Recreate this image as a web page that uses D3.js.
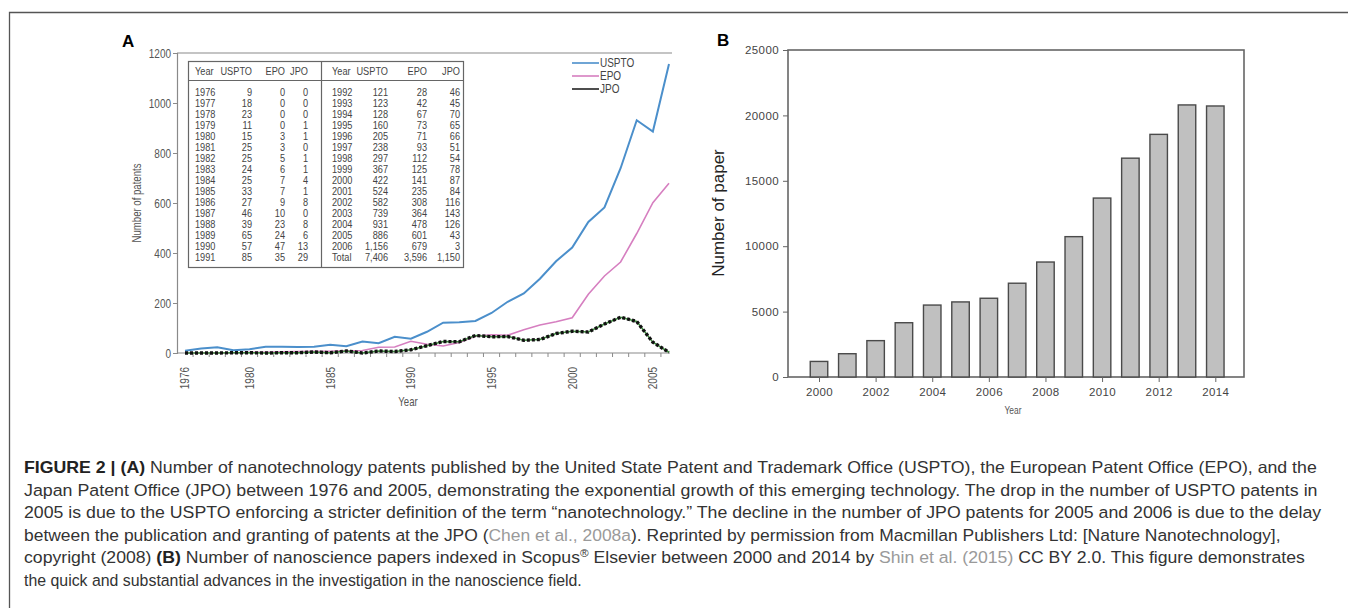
<!DOCTYPE html>
<html><head><meta charset="utf-8">
<script src="https://cdn.jsdelivr.net/npm/d3@7"></script>
<style>body{margin:0;background:#fff;} svg{display:block;}</style>
</head><body>
<svg id="fig" width="1348" height="608"></svg>
<script>
// ---------- Panel A data ----------
const patentYears = [1976,1977,1978,1979,1980,1981,1982,1983,1984,1985,1986,1987,1988,1989,1990,1991,1992,1993,1994,1995,1996,1997,1998,1999,2000,2001,2002,2003,2004,2005,2006];
const usptoValues = [9,18,23,11,15,25,25,24,25,33,27,46,39,65,57,85,121,123,128,160,205,238,297,367,422,524,582,739,931,886,1156];
const epoValues   = [0,0,0,0,3,3,5,6,7,7,9,10,23,24,47,35,28,42,67,73,71,93,112,125,141,235,308,364,478,601,679];
const jpoValues   = [0,0,0,1,1,0,1,1,4,1,8,0,8,6,13,29,46,45,70,65,66,51,54,78,87,84,116,143,126,43,3];
const seriesNames = ["USPTO","EPO","JPO"];
const patentYTicks = [0,200,400,600,800,1000,1200];
const patentXTickLabels = [1976,1980,1985,1990,1995,2000,2005];
const tableHeader = ["Year","USPTO","EPO","JPO"];
const totalLabel = "Total";

// ---------- Panel B data ----------
const paperYears = [2000,2001,2002,2003,2004,2005,2006,2007,2008,2009,2010,2011,2012,2013,2014];
const paperValues = [1190,1780,2780,4150,5500,5740,6020,7170,8790,10730,13680,16730,18550,20800,20720];
const paperYTicks = [0,5000,10000,15000,20000,25000];
const paperXTickLabels = [2000,2002,2004,2006,2008,2010,2012,2014];

// ---------- Caption ----------
const captionLines = [
  [{t:"FIGURE 2 | (A)",s:"b"},{t:" Number of nanotechnology patents published by the United State Patent and Trademark Office (USPTO), the European Patent Office (EPO), and the"}],
  [{t:"Japan Patent Office (JPO) between 1976 and 2005, demonstrating the exponential growth of this emerging technology. The drop in the number of USPTO patents in"}],
  [{t:"2005 is due to the USPTO enforcing a stricter definition of the term \u201cnanotechnology.\u201d The decline in the number of JPO patents for 2005 and 2006 is due to the delay"}],
  [{t:"between the publication and granting of patents at the JPO ("},{t:"Chen et al., 2008a",s:"l"},{t:"). Reprinted by permission from Macmillan Publishers Ltd: [Nature Nanotechnology],"}],
  [{t:"copyright (2008) "},{t:"(B)",s:"b"},{t:" Number of nanoscience papers indexed in Scopus"},{t:"\u00AE",s:"sup"},{t:" Elsevier between 2000 and 2014 by "},{t:"Shin et al. (2015)",s:"l"},{t:" CC BY 2.0. This figure demonstrates"}],
  [{t:"the quick and substantial advances in the investigation in the nanoscience field."}]
];
const captionRight = [1318,1318,1323,1282,1305,582];

const svg = d3.select("#fig");
const SANS = "'Liberation Sans',Arial,sans-serif";
const K = 0.8; // horizontal condensing factor for the narrow font look

function ntext(parent, x, y, str, size, anchor, fill, rot) {
  return parent.append("text")
    .attr("transform", `translate(${x},${y})${rot ? " rotate(-90)" : ""} scale(${K},1)`)
    .attr("text-anchor", anchor).attr("dy","0.35em")
    .attr("font-family", SANS).attr("font-size", size).attr("fill", fill).text(str);
}

// outer frame (top + left)
svg.append("path").attr("d","M9.5,608 V12.5 H1348").attr("fill","none").attr("stroke","#555").attr("stroke-width",1.3);

// ================= PANEL A =================
const A = svg.append("g");
const xA = d3.scaleLinear().domain([1976,2006]).range([185,669]);
const yA = d3.scaleLinear().domain([0,1200]).range([353,53]);
const axisCol = "#8a8a8a", txtA = "#555";

A.append("text").attr("x",122).attr("y",47).attr("font-family",SANS).attr("font-weight","bold").attr("font-size",17).text("A");

// frame top line
A.append("line").attr("x1",177).attr("x2",672).attr("y1",yA(1200)).attr("y2",yA(1200)).attr("stroke",axisCol).attr("stroke-width",1.2);

// y axis
const yAxisA = A.append("g").attr("transform","translate(177,0)")
  .call(d3.axisLeft(yA).tickValues(patentYTicks).tickFormat(d3.format("d")).tickSize(4).tickPadding(3));
yAxisA.select(".domain").attr("stroke",axisCol).attr("stroke-width",1.2);
yAxisA.selectAll(".tick line").attr("stroke",axisCol);
yAxisA.selectAll(".tick text").remove();
yAxisA.selectAll(".tick").each(function(d){ ntext(d3.select(this), -6, 0, d, 12.5, "end", txtA, false); });

// x axis: baseline + half-year ticks
A.append("line").attr("x1",177).attr("x2",670).attr("y1",yA(0)).attr("y2",yA(0)).attr("stroke",axisCol).attr("stroke-width",1.2);
const halfTicks = patentYears.slice(0,-1).map(y=>y+0.5);
A.selectAll(".htick").data(halfTicks).join("line")
  .attr("x1",d=>xA(d)).attr("x2",d=>xA(d)).attr("y1",yA(0)).attr("y2",yA(0)+4)
  .attr("stroke",axisCol);
patentXTickLabels.forEach(d=>{
  ntext(A, xA(d), yA(0)+14, d, 12.5, "end", txtA, true);
});

ntext(A, 137, 203, "Number of patents", 12, "middle", txtA, true);
ntext(A, 408, 402, "Year", 12, "middle", txtA, false);

// lines
const mk = vals => d3.line().x((d,i)=>xA(patentYears[i])).y(d=>yA(d))(vals);
const usptoCol = "#4b8fcb", epoCol = "#d67fc0";
A.append("path").attr("d",mk(usptoValues)).attr("fill","none").attr("stroke",usptoCol).attr("stroke-width",2);
A.append("path").attr("d",mk(epoValues)).attr("fill","none").attr("stroke",epoCol).attr("stroke-width",1.6);
A.append("path").attr("d",mk(jpoValues)).attr("fill","none").attr("stroke","#3d8b3d").attr("stroke-width",1.5);
A.append("path").attr("d",mk(jpoValues)).attr("fill","none").attr("stroke","#111").attr("stroke-width",3.4).attr("stroke-dasharray","3,2");

// legend
const legCols = [usptoCol, epoCol, "#222"];
seriesNames.forEach((name,i)=>{
  const g = A.append("g").attr("transform",`translate(572,${63+i*13})`);
  g.append("line").attr("x1",0).attr("x2",27).attr("stroke",legCols[i]).attr("stroke-width",1.6);
  ntext(g, 28, 0, name, 12.5, "start", "#444", false);
});

// table
const T = A.append("g");
T.append("rect").attr("x",188.5).attr("y",61.5).attr("width",275).attr("height",206).attr("fill","#fff").attr("stroke","#666").attr("stroke-width",1.2);
T.append("line").attr("x1",188.5).attr("x2",463.5).attr("y1",80.5).attr("y2",80.5).attr("stroke","#666").attr("stroke-width",1.2);
T.append("line").attr("x1",321.5).attr("x2",321.5).attr("y1",61.5).attr("y2",267.5).attr("stroke","#666").attr("stroke-width",1.2);
const fmt = d3.format(",");
const rowsAll = patentYears.map((y,i)=>[String(y),fmt(usptoValues[i]),fmt(epoValues[i]),fmt(jpoValues[i])]);
rowsAll.push([totalLabel,fmt(d3.sum(usptoValues)),fmt(d3.sum(epoValues)),fmt(d3.sum(jpoValues))]);
const halves = [
  {rows: rowsAll.slice(0,16), cols:[{x:195,a:"start"},{x:252,a:"end"},{x:285,a:"end"},{x:308,a:"end"}]},
  {rows: rowsAll.slice(16), cols:[{x:332,a:"start"},{x:388,a:"end"},{x:427,a:"end"},{x:460,a:"end"}]}
];
halves.forEach(h=>{
  tableHeader.forEach((t,c)=>{ ntext(T, h.cols[c].x, 71, t, 11.5, h.cols[c].a, "#444", false); });
  h.rows.forEach((r,ri)=>{
    r.forEach((t,c)=>{ ntext(T, h.cols[c].x, 92+ri*11, t, 11.5, h.cols[c].a, "#444", false); });
  });
});

// ================= PANEL B =================
const B = svg.append("g");
const xB = d3.scaleLinear().domain([2000,2014]).range([819,1215.3]);
const yB = d3.scaleLinear().domain([0,25000]).range([377,50]);
const bAxisCol = "#666";
B.append("text").attr("x",717).attr("y",46).attr("font-family",SANS).attr("font-weight","bold").attr("font-size",17).text("B");

B.append("rect").attr("x",788).attr("y",yB(25000)).attr("width",1244-788).attr("height",yB(0)-yB(25000))
  .attr("fill","none").attr("stroke",bAxisCol).attr("stroke-width",1.6);

const barW = 17.5;
B.selectAll(".bar").data(paperValues).join("rect")
  .attr("x",(d,i)=>xB(paperYears[i])-barW/2).attr("width",barW)
  .attr("y",d=>yB(d)).attr("height",d=>yB(0)-yB(d))
  .attr("fill","#c0c0c0").attr("stroke","#4a4a4a").attr("stroke-width",1.4);

const yAxisB = B.append("g").attr("transform","translate(788,0)")
  .call(d3.axisLeft(yB).tickValues(paperYTicks).tickFormat(d3.format("d")).tickSize(5).tickPadding(4));
yAxisB.select(".domain").remove();
yAxisB.selectAll(".tick line").attr("stroke",bAxisCol);
yAxisB.selectAll("text").attr("font-family",SANS).attr("font-size",11.5).attr("letter-spacing",0.4).attr("fill","#444");

const xAxisB = B.append("g").attr("transform",`translate(0,${yB(0)})`)
  .call(d3.axisBottom(xB).tickValues(paperXTickLabels).tickFormat(d3.format("d")).tickSize(5).tickPadding(6));
xAxisB.select(".domain").remove();
xAxisB.selectAll(".tick line").attr("stroke",bAxisCol);
xAxisB.selectAll("text").attr("font-family",SANS).attr("font-size",11.5).attr("letter-spacing",0.4).attr("fill","#444");

B.append("text").attr("transform","translate(724,213) rotate(-90)").attr("text-anchor","middle")
  .attr("font-family",SANS).attr("font-size",17).attr("fill","#222").text("Number of paper");
ntext(B, 1013, 410, "Year", 10.5, "middle", "#555", false);

// ================= CAPTION =================
captionLines.forEach((segs,li)=>{
  const base = 473 + li*22.5;
  const t = svg.append("text").attr("x",0).attr("y",0)
    .attr("font-family",SANS).attr("font-size",16.5).attr("fill","#333");
  segs.forEach(sg=>{
    const ts = t.append("tspan").text(sg.t);
    if (sg.s==="b") ts.attr("font-weight","bold").attr("fill","#222");
    if (sg.s==="l") ts.attr("fill","#9a9a9a");
    if (sg.s==="sup") { ts.attr("font-size",11).attr("baseline-shift","super"); }
  });
  const s = (captionRight[li]-24)/t.node().getComputedTextLength();
  t.attr("transform",`translate(24,${base}) scale(${s},1)`);
});
</script>
</body></html>
